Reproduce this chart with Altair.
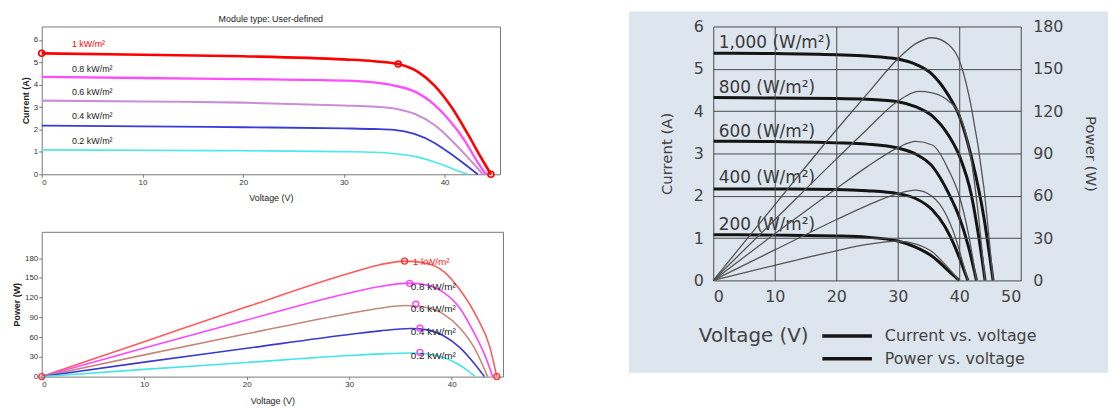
import altair as alt
import pandas as pd

# ---------------- Left panels (module, user-defined) ----------------
LEVELS = ["1 kW/m²", "0.8 kW/m²", "0.6 kW/m²", "0.4 kW/m²", "0.2 kW/m²"]

# I-V curves (top-left)
TL_V_1000 = [0, 10, 20, 30, 33, 35.4, 37.4, 39.0, 40.7, 42.3, 43.6, 44.6]
TL_I_1000 = [5.4, 5.34, 5.27, 5.13, 5.05, 4.92, 4.56, 3.96, 2.99, 1.80, 0.76, 0]
TL_V_800 = [0, 10, 20, 30, 33, 35, 37, 39, 40.5, 42, 43.2, 44.1]
TL_I_800 = [4.35, 4.3, 4.25, 4.18, 4.1, 3.96, 3.7, 3.1, 2.4, 1.5, 0.6, 0]
TL_V_600 = [0, 10, 20, 30, 33, 35, 37, 39, 40.5, 42, 43.8]
TL_I_600 = [3.29, 3.25, 3.2, 3.07, 3.02, 2.94, 2.7, 2.2, 1.6, 0.9, 0]
TL_V_400 = [0, 10, 20, 30, 33, 35, 37, 39, 40.5, 42, 43.3]
TL_I_400 = [2.17, 2.14, 2.1, 2.05, 2.02, 1.98, 1.8, 1.4, 0.95, 0.45, 0]
TL_V_200 = [0, 10, 20, 30, 33, 35, 37, 39, 40.5, 41.5, 42.3]
TL_I_200 = [1.09, 1.07, 1.05, 1.01, 0.98, 0.92, 0.8, 0.55, 0.3, 0.12, 0]
TL_MARK_V = [0, 35.4, 44.6]
TL_MARK_I = [5.4, 4.92, 0]
TL_LABEL_V = [3.0, 3.0, 3.0, 3.0, 3.0]
TL_LABEL_I = [5.82, 4.70, 3.66, 2.62, 1.50]
TL_COLORS = ["#ff0000", "#ff4dff", "#c98fd6", "#3b3bd9", "#4de8e8"]
TL_WIDTHS = [2.6, 1.6, 1.6, 1.6, 1.8]
TL_LABEL_COLORS = ["#ff0000", "#222222", "#222222", "#222222", "#222222"]

# P-V curves (bottom-left)
BL_V_1000 = [0, 10, 20, 30, 33, 35.4, 37.6, 39.2, 40.8, 42.4, 43.7, 44.4]
BL_P_1000 = [0, 53, 106, 157, 170, 175.5, 172, 160, 132, 92, 46, 0]
BL_V_800 = [0, 10, 20, 30, 33, 35.9, 37.6, 39.2, 40.8, 42.2, 43.3, 44.0]
BL_P_800 = [0, 43.5, 86, 127, 137, 142, 139, 128, 104, 66, 30, 0]
BL_V_600 = [0, 10, 20, 30, 33, 35.5, 37.5, 39.2, 40.8, 42.2, 43.5]
BL_P_600 = [0, 33, 65, 96, 104, 108, 105, 95, 74, 44, 0]
BL_V_400 = [0, 10, 20, 30, 33, 36, 37.6, 39.2, 40.8, 42.2, 43.2]
BL_P_400 = [0, 22, 43, 64, 69.5, 73, 71, 62, 44, 20, 0]
BL_V_200 = [0, 10, 20, 30, 33, 36, 37.6, 39.2, 40.5, 41.5, 42.3]
BL_P_200 = [0, 11, 21.5, 32, 34.5, 36, 34.5, 29, 20, 10, 0]
BL_MARK_V = [0, 35.4, 44.4, 35.9, 36.5, 36.9, 36.9]
BL_MARK_P = [0, 175.5, 0, 141.7, 110, 73.6, 36.8]
BL_MARK_COLORS = ["#ff3030", "#ff3030", "#ff3030", "#ff40ff", "#ff40ff", "#ff40ff", "#ff40ff"]
BL_LABEL_V = [36.2, 36.0, 36.0, 36.0, 36.0]
BL_LABEL_P = [174, 136.6, 102, 67, 32]
BL_COLORS = ["#ff5a5a", "#ff45ff", "#c4887a", "#3a3ad0", "#45e5e5"]
BL_LABEL_COLORS = ["#ff2020", "#222222", "#222222", "#222222", "#222222"]

# ---------------- Right panel (datasheet style) ----------------
R_LEVELS = ["1,000 (W/m²)", "800 (W/m²)", "600 (W/m²)", "400 (W/m²)", "200 (W/m²)"]
R_IV_V_1000 = [0, 10, 20, 25, 30, 33, 35.6, 38.3, 40, 42, 44, 45.5]
R_IV_I_1000 = [5.37, 5.36, 5.33, 5.3, 5.23, 5.1, 4.87, 4.36, 3.89, 2.9, 1.5, 0]
R_IV_V_800 = [0, 10, 20, 25, 30, 33, 35.6, 38.3, 40, 42, 43.2, 44.2]
R_IV_I_800 = [4.32, 4.31, 4.3, 4.28, 4.22, 4.1, 3.89, 3.42, 2.95, 2.0, 1.0, 0]
R_IV_V_600 = [0, 10, 20, 25, 30, 33, 35.6, 38.3, 40, 41.5, 42.8]
R_IV_I_600 = [3.29, 3.28, 3.25, 3.22, 3.13, 2.98, 2.7, 2.05, 1.5, 0.8, 0]
R_IV_V_400 = [0, 10, 20, 25, 30, 33, 35.6, 37.7, 39.3, 40.5, 41.4]
R_IV_I_400 = [2.16, 2.16, 2.15, 2.12, 2.05, 1.93, 1.67, 1.27, 0.8, 0.35, 0]
R_IV_V_200 = [0, 10, 20, 25, 30, 33, 35.6, 38.3, 40]
R_IV_I_200 = [1.08, 1.07, 1.05, 1.02, 0.93, 0.78, 0.57, 0.22, 0]

R_PV_V_1000 = [0, 10, 20, 25, 30, 33, 35.6, 38.3, 40, 42, 44, 45.5]
R_PV_P_1000 = [0, 53.6, 106.6, 132, 157, 168, 172, 167, 156, 122, 66, 0]
R_PV_V_800 = [0, 10, 20, 25, 30, 33.4, 35.6, 38.3, 40, 42, 43.2, 44.2]
R_PV_P_800 = [0, 43, 86, 107, 127, 134, 133, 127, 118, 84, 43, 0]
R_PV_V_600 = [0, 10, 20, 25, 30, 32.9, 35.6, 38.3, 40, 41.5, 42.8]
R_PV_P_600 = [0, 33, 65, 80.5, 94, 98.5, 96, 78, 60, 33, 0]
R_PV_V_400 = [0, 10, 20, 25, 30, 32.9, 35.6, 37.7, 39.3, 40.5, 41.4]
R_PV_P_400 = [0, 21.6, 43, 53, 61.5, 64, 59.5, 48, 31.4, 14, 0]
R_PV_V_200 = [0, 10, 20, 25, 30, 33, 35.6, 38.3, 40]
R_PV_P_200 = [0, 10.7, 21, 25.5, 27.9, 25.7, 20.3, 8.4, 0]

R_LABEL_V = [0.9, 0.9, 0.9, 0.9, 0.9]
R_LABEL_I = [5.5, 4.43, 3.38, 2.31, 1.2]
LEGEND_LABELS = ["Current vs. voltage", "Power vs. voltage"]


def series_frame(names, xs_list, ys_list):
    rows = []
    for name, xs, ys in zip(names, xs_list, ys_list):
        for x, y in zip(xs, ys):
            rows.append({"level": name, "V": x, "Y": y})
    return pd.DataFrame(rows)


LEFT_FONT = "Liberation Sans"
RIGHT_FONT = "DejaVu Sans"


def left_axis(values, title, bold, title_pad=3):
    return alt.Axis(values=values, title=title, grid=False, domain=False,
                    labelFont=LEFT_FONT, labelFontSize=8, labelColor="#333",
                    tickColor="#777", tickSize=3, labelPadding=1,
                    titleFont=LEFT_FONT, titleFontSize=9, titleColor="#222",
                    titleFontWeight="bold" if bold else "normal", titlePadding=title_pad)


# ---------- top-left chart ----------
tl_df = series_frame(LEVELS, [TL_V_1000, TL_V_800, TL_V_600, TL_V_400, TL_V_200],
                     [TL_I_1000, TL_I_800, TL_I_600, TL_I_400, TL_I_200])
tl_x = alt.X("V:Q", scale=alt.Scale(domain=[0, 45.5], nice=False),
             axis=left_axis([0, 10, 20, 30, 40], "Voltage (V)", False, 7))
tl_y = alt.Y("Y:Q", scale=alt.Scale(domain=[0, 6.6], nice=False),
             axis=left_axis([0, 1, 2, 3, 4, 5, 6], "Current (A)", True))

tl_lines = alt.Chart(tl_df).mark_line(interpolate="monotone").encode(
    x=tl_x, y=tl_y,
    color=alt.Color("level:N", scale=alt.Scale(domain=LEVELS, range=TL_COLORS), legend=None),
    strokeWidth=alt.StrokeWidth("level:N", scale=alt.Scale(domain=LEVELS, range=TL_WIDTHS), legend=None),
)
tl_marks = alt.Chart(pd.DataFrame({"V": TL_MARK_V, "Y": TL_MARK_I})).mark_point(
    shape="circle", filled=False, size=36, strokeWidth=1.6, color="#ff0000", opacity=1
).encode(x=tl_x, y=tl_y)
tl_labels = alt.Chart(pd.DataFrame({"V": TL_LABEL_V, "Y": TL_LABEL_I, "t": LEVELS,
                                    "c": TL_LABEL_COLORS})).mark_text(
    align="left", baseline="middle", font=LEFT_FONT, fontSize=9
).encode(x=tl_x, y=tl_y, text="t:N", fill=alt.Fill("c:N", scale=None))

top_left = alt.layer(tl_lines, tl_marks, tl_labels).properties(
    width=462, height=149,
    title=alt.TitleParams("Module type: User-defined", font=LEFT_FONT, fontSize=9,
                          fontWeight="normal", color="#222", offset=3),
    view=alt.ViewBackground(stroke="#777", strokeWidth=1, fill="white"),
)

# ---------- bottom-left chart ----------
bl_df = series_frame(LEVELS, [BL_V_1000, BL_V_800, BL_V_600, BL_V_400, BL_V_200],
                     [BL_P_1000, BL_P_800, BL_P_600, BL_P_400, BL_P_200])
bl_x = alt.X("V:Q", scale=alt.Scale(domain=[0, 45], nice=False),
             axis=left_axis([0, 10, 20, 30, 40], "Voltage (V)", False, 8))
bl_y = alt.Y("Y:Q", scale=alt.Scale(domain=[0, 220], nice=False),
             axis=left_axis([0, 30, 60, 90, 120, 150, 180], "Power (W)", True))

bl_lines = alt.Chart(bl_df).mark_line(interpolate="monotone", strokeWidth=1.6).encode(
    x=bl_x, y=bl_y,
    color=alt.Color("level:N", scale=alt.Scale(domain=LEVELS, range=BL_COLORS), legend=None),
)
bl_marks = alt.Chart(pd.DataFrame({"V": BL_MARK_V, "Y": BL_MARK_P, "c": BL_MARK_COLORS})).mark_point(
    shape="circle", filled=False, size=36, strokeWidth=1.4, opacity=1
).encode(x=bl_x, y=bl_y, stroke=alt.Stroke("c:N", scale=None))
bl_labels = alt.Chart(pd.DataFrame({"V": BL_LABEL_V, "Y": BL_LABEL_P, "t": LEVELS,
                                    "c": BL_LABEL_COLORS})).mark_text(
    align="left", baseline="middle", font=LEFT_FONT, fontSize=10
).encode(x=bl_x, y=bl_y, text="t:N", fill=alt.Fill("c:N", scale=None))

bottom_left = alt.layer(bl_lines, bl_marks, bl_labels).properties(
    width=465, height=146,
    view=alt.ViewBackground(stroke="#777", strokeWidth=1, fill="white"),
)

left = alt.vconcat(top_left, bottom_left, spacing=58, bounds="flush").resolve_scale(
    color="independent", strokeWidth="independent")

# ---------- right chart ----------
R_W, R_H = 310, 256
r_x_axis = alt.Axis(values=[0, 10, 20, 30, 40, 50], grid=True, gridColor="#4a4a4a", gridWidth=1,
                    domain=False, ticks=False, labelFont=RIGHT_FONT, labelFontSize=16,
                    labelColor="#444", labelPadding=8, title="Voltage (V)",
                    titleFont=RIGHT_FONT, titleFontSize=20, titleFontWeight="normal",
                    titleColor="#444", titleAlign="left", titleBaseline="middle",
                    titleX=-15, titleY=56, zindex=1)
r_x = alt.X("V:Q", scale=alt.Scale(domain=[0, 50], nice=False), axis=r_x_axis)
r_y_left = alt.Y("Y:Q", scale=alt.Scale(domain=[0, 6], nice=False),
                 axis=alt.Axis(values=[0, 1, 2, 3, 4, 5, 6], grid=True, gridColor="#4a4a4a",
                               gridWidth=1, domain=False, ticks=False, orient="left",
                               labelFont=RIGHT_FONT, labelFontSize=16, labelColor="#444",
                               labelPadding=10, title="Current (A)", titleFont=RIGHT_FONT,
                               titleFontSize=15, titleFontWeight="normal", titleColor="#444",
                               titlePadding=19, zindex=1))
r_y_right = alt.Y("Y:Q", scale=alt.Scale(domain=[0, 180], nice=False),
                  axis=alt.Axis(values=[0, 30, 60, 90, 120, 150, 180], grid=False,
                                domain=False, ticks=False, orient="right",
                                labelFont=RIGHT_FONT, labelFontSize=16, labelColor="#444",
                                labelPadding=12, title="Power (W)", titleFont=RIGHT_FONT,
                                titleFontSize=15, titleFontWeight="normal", titleColor="#444",
                                titlePadding=20, zindex=1))

r_iv_df = series_frame(R_LEVELS, [R_IV_V_1000, R_IV_V_800, R_IV_V_600, R_IV_V_400, R_IV_V_200],
                       [R_IV_I_1000, R_IV_I_800, R_IV_I_600, R_IV_I_400, R_IV_I_200])
r_pv_df = series_frame(R_LEVELS, [R_PV_V_1000, R_PV_V_800, R_PV_V_600, R_PV_V_400, R_PV_V_200],
                       [R_PV_P_1000, R_PV_P_800, R_PV_P_600, R_PV_P_400, R_PV_P_200])

bg = alt.Chart(pd.DataFrame({"k": [0]})).mark_rect(color="#dde5ee").encode(
    x=alt.value(-85), x2=alt.value(398), y=alt.value(-15), y2=alt.value(349))

r_iv = alt.Chart(r_iv_df).mark_line(interpolate="monotone", strokeWidth=3, color="#141414").encode(
    x=r_x, y=r_y_left, detail="level:N")
r_labels = alt.Chart(pd.DataFrame({"V": R_LABEL_V, "Y": R_LABEL_I, "t": R_LEVELS})).mark_text(
    align="left", baseline="alphabetic", font=RIGHT_FONT, fontSize=17, color="#3a3a3a"
).encode(x=r_x, y=r_y_left, text="t:N")
r_left_layer = alt.layer(r_iv, r_labels)

r_pv = alt.Chart(r_pv_df).mark_line(interpolate="monotone", strokeWidth=1.3, color="#555555").encode(
    x=r_x, y=r_y_right, detail="level:N")

legend_layers = []
for i, lab in enumerate(LEGEND_LABELS):
    legend_layers.append(
        alt.Chart(pd.DataFrame({"t": [lab]})).mark_rule(color="#141414", strokeWidth=3.5).encode(
            x=alt.value(110), x2=alt.value(160), y=alt.value(R_H + 56 + 23 * i)))
    legend_layers.append(
        alt.Chart(pd.DataFrame({"t": [lab]})).mark_text(
            align="left", baseline="middle", font=RIGHT_FONT, fontSize=16, color="#444"
        ).encode(x=alt.value(173), y=alt.value(R_H + 56 + 23 * i), text="t:N"))

right = alt.layer(bg, r_left_layer, r_pv, *legend_layers).resolve_scale(y="independent").properties(
    width=R_W, height=R_H,
    view=alt.ViewBackground(stroke="#000000", strokeWidth=3.5),
)

chart = alt.hconcat(left, right, spacing=124).properties(
    padding={"left": 4, "top": 0, "right": 0, "bottom": 0},
    background="white",
)

chart.save("out.html", embed_options={"renderer": "svg", "actions": False})
